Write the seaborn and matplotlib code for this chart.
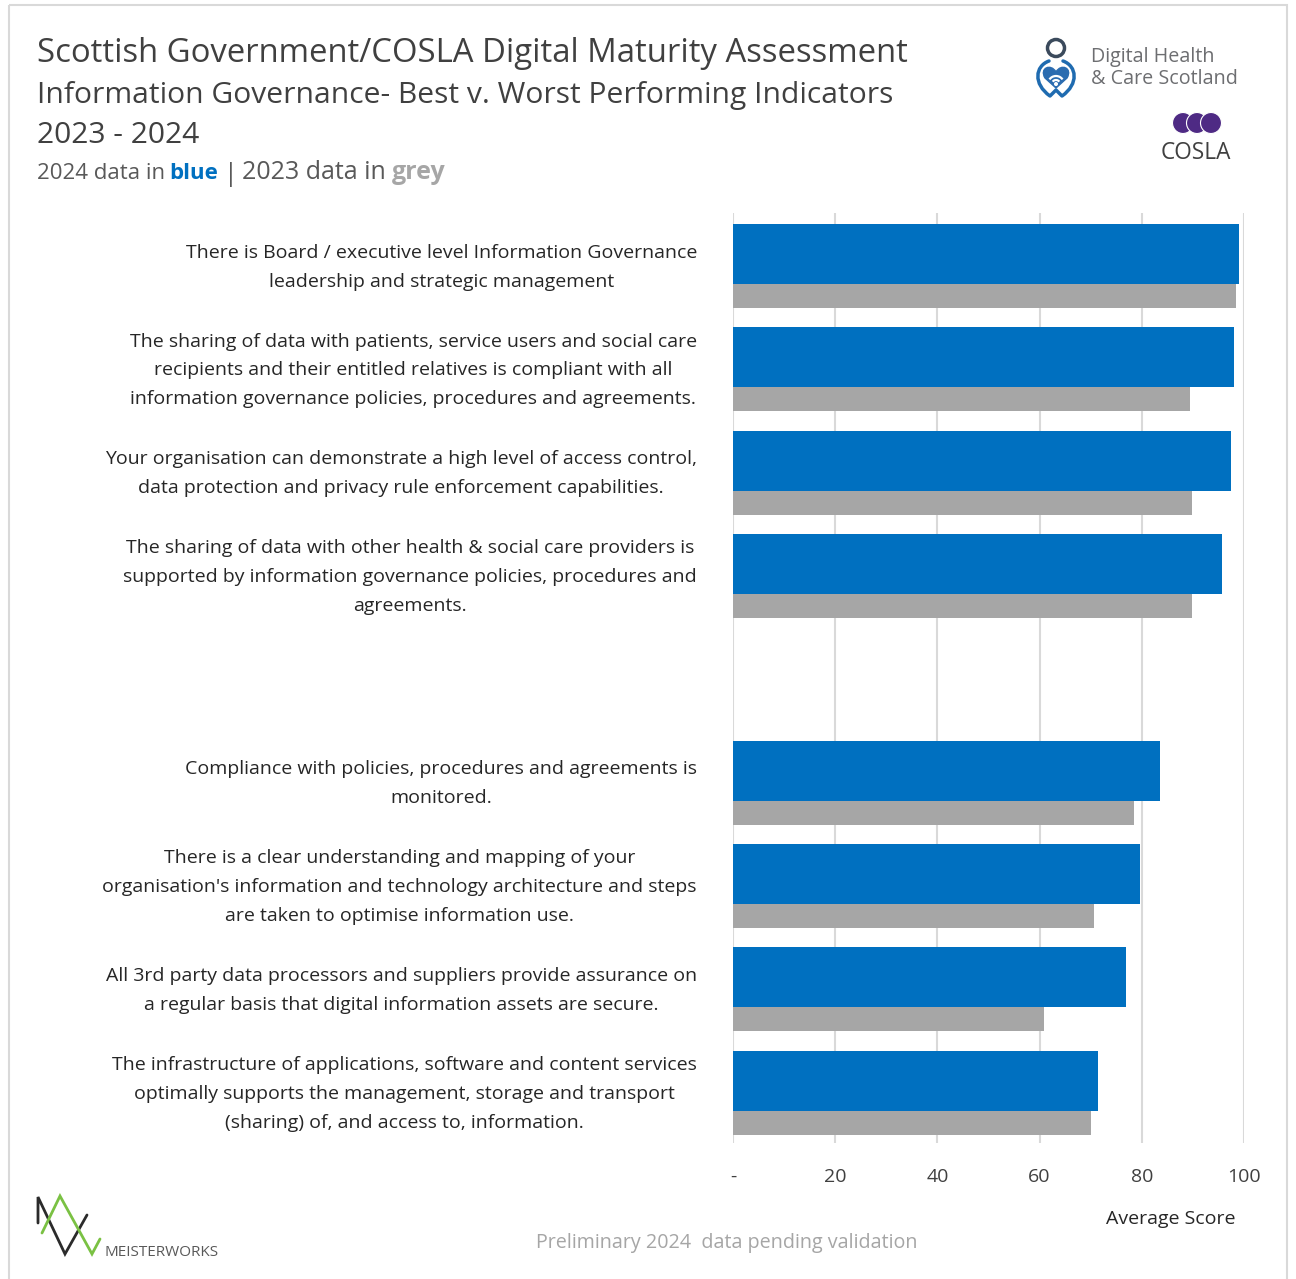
import matplotlib
matplotlib.use("Agg")
import matplotlib.pyplot as plt
from matplotlib.patches import Rectangle, Circle, PathPatch, Arc
from matplotlib.path import Path
from matplotlib.transforms import ScaledTranslation
import pandas as pd
import seaborn as sns

sns.set_theme(style="white")
plt.rcParams["font.family"] = ["Open Sans", "DejaVu Sans"]

# ---- data -------------------------------------------------------------
indicators = [
    "There is Board / executive level Information Governance\nleadership and strategic management",
    "The sharing of data with patients, service users and social care\nrecipients and their entitled relatives is compliant with all\ninformation governance policies, procedures and agreements.",
    "Your organisation can demonstrate a high level of access control,\ndata protection and privacy rule enforcement capabilities.",
    "The sharing of data with other health & social care providers is\nsupported by information governance policies, procedures and\nagreements.",
    "",
    "Compliance with policies, procedures and agreements is\nmonitored.",
    "There is a clear understanding and mapping of your\norganisation's information and technology architecture and steps\nare taken to optimise information use.",
    "All 3rd party data processors and suppliers provide assurance on\na regular basis that digital information assets are secure.",
    "The infrastructure of applications, software and content services\noptimally supports the management, storage and transport\n(sharing) of, and access to, information.",
]
slots = [0, 1, 2, 3, 5, 6, 7, 8]
score_2024 = [99.1, 98.1, 97.5, 95.7, 83.6, 79.6, 76.9, 71.4]
score_2023 = [98.4, 89.5, 89.9, 89.8, 78.4, 70.7, 60.9, 70.1]
x_ticks = [0, 20, 40, 60, 80, 100]
x_tick_labels = ["-", "20", "40", "60", "80", "100"]

BLUE = "#0070C0"
GREY = "#A6A6A6"
DARK = "#404040"

W, H = 1296, 1279
fig = plt.figure(figsize=(W / 100, H / 100), dpi=100)
fig.patch.set_facecolor("white")

# ---- bar chart --------------------------------------------------------
ax = fig.add_axes([733 / W, 1 - 1143 / H, (1244 - 733) / W, (1143 - 213) / H])
df_blue = pd.DataFrame({"pos": [s - 0.104 for s in slots], "score": score_2024})
df_grey = pd.DataFrame({"pos": [s + 0.303 for s in slots], "score": score_2023})

sns.barplot(data=df_grey, x="score", y="pos", orient="h", native_scale=True,
            width=0.23, color=GREY, saturation=1, linewidth=0, ax=ax)
sns.barplot(data=df_blue, x="score", y="pos", orient="h", native_scale=True,
            width=0.58, color=BLUE, saturation=1, linewidth=0, ax=ax)

ax.set_xlim(0, 100)
ax.set_ylim(8.5, -0.5)
ax.set_xticks(x_ticks)
ax.set_xticklabels(x_tick_labels, fontsize=14, color=DARK)
ax.set_yticks(range(len(indicators)))
ax.set_yticklabels(indicators, fontsize=14, color="#262626")
ax.tick_params(axis="y", length=0, pad=26)
ax.tick_params(axis="x", length=0, pad=18)
lift = ScaledTranslation(0, 5 / 100, fig.dpi_scale_trans)
for lab in ax.get_yticklabels():
    lab.set_multialignment("center")
    lab.set_linespacing(1.78)
    lab.set_transform(lab.get_transform() + lift)
ax.set_xlabel("")
ax.set_ylabel("")
ax.grid(axis="x", color="#D9D9D9", linewidth=1.5)
ax.grid(axis="y", visible=False)
ax.set_axisbelow(True)
for sp in ax.spines.values():
    sp.set_visible(False)

fig.text(1235 / W, 1 - 1219 / H, "Average Score", ha="right", va="center",
         fontsize=14, color="#262626")

# ---- titles -----------------------------------------------------------
fig.text(37 / W, 1 - 62 / H, "Scottish Government/COSLA Digital Maturity Assessment",
         ha="left", va="baseline", fontsize=23.7, color=DARK)
fig.text(37 / W, 1 - 103 / H, "Information Governance- Best v. Worst Performing Indicators",
         ha="left", va="baseline", fontsize=21.6, color=DARK)
fig.text(37 / W, 1 - 143 / H, "2023 - 2024", ha="left", va="baseline",
         fontsize=21.6, color=DARK)
fig.text(37 / W, 1 - 179 / H, "2024 data in", ha="left", va="baseline",
         fontsize=16, color="#595959")
fig.text(169 / W, 1 - 179 / H, "blue", ha="left", va="baseline",
         fontsize=16, color=BLUE, fontweight="bold")
fig.text(224 / W, 1 - 181 / H, "|", ha="left", va="baseline",
         fontsize=18, color="#595959")
fig.text(242 / W, 1 - 179 / H, "2023 data in", ha="left", va="baseline",
         fontsize=18, color="#595959")
fig.text(392 / W, 1 - 179 / H, "grey", ha="left", va="baseline",
         fontsize=18, color=GREY, fontweight="bold")

fig.text(727 / W, 1 - 1243 / H, "Preliminary 2024  data pending validation",
         ha="center", va="center", fontsize=14.2, color="#A6A6A6")

# ---- frame (pixel overlay, behind everything) -------------------------
ov = fig.add_axes([0, 0, 1, 1], zorder=-1)
ov.set_xlim(0, W)
ov.set_ylim(H, 0)
ov.axis("off")
ov.add_patch(Rectangle((9, 5), 1278, 1290, fill=False, edgecolor="#D9D9D9", linewidth=1.5))

# ---- logos (pixel overlay) --------------------------------------------
ov2 = fig.add_axes([0, 0, 1, 1], zorder=5)
ov2.set_xlim(0, W)
ov2.set_ylim(H, 0)
ov2.axis("off")
ov2.patch.set_alpha(0)

# Digital Health & Care Scotland mark
ov2.add_patch(Circle((1056, 48), 8.5, fill=False, edgecolor="#3B4A5C", linewidth=2.5))
body = Path([(1049, 61), (1035, 66), (1033, 84), (1050, 96),
             (1056, 90), (1062, 96),
             (1079, 84), (1077, 66), (1063, 61)],
            [Path.MOVETO, Path.CURVE4, Path.CURVE4, Path.CURVE4,
             Path.LINETO, Path.LINETO,
             Path.CURVE4, Path.CURVE4, Path.CURVE4])
ov2.add_patch(PathPatch(body, fill=False, edgecolor="#1F6BB0", linewidth=2.5,
                        capstyle="round", joinstyle="round"))
heart = Path([(1056, 72), (1051, 63), (1039, 68), (1045, 78),
              (1056, 88), (1067, 78),
              (1073, 68), (1061, 63), (1056, 72), (1056, 72)],
             [Path.MOVETO, Path.CURVE4, Path.CURVE4, Path.CURVE4,
              Path.LINETO, Path.LINETO,
              Path.CURVE4, Path.CURVE4, Path.CURVE4, Path.CLOSEPOLY])
ov2.add_patch(PathPatch(heart, facecolor="#2B6CB0", edgecolor="#2B6CB0", linewidth=1))
for r in (4, 8):
    ov2.add_patch(Arc((1056, 84), 2 * r, 2 * r, theta1=215, theta2=325,
                      color="white", linewidth=1.6))
ov2.add_patch(Circle((1056, 84), 1.3, color="white"))
fig.text(1091 / W, 1 - 57 / H, "Digital Health", ha="left", va="center",
         fontsize=14.2, color="#6D6E71")
fig.text(1091 / W, 1 - 79 / H, "& Care Scotland", ha="left", va="center",
         fontsize=14.2, color="#6D6E71")

# COSLA mark
for cx in (1183, 1197, 1211):
    ov2.add_patch(Circle((cx, 123), 10.5, facecolor="#4E2A84", edgecolor="white", linewidth=0.8))
fig.text(1196 / W, 1 - 153 / H, "COSLA", ha="center", va="center",
         fontsize=16.3, color="#404040")

# Meisterworks mark
ov2.plot([38, 38, 65, 87], [1223, 1197, 1254, 1215], color="#2B2B2B", linewidth=2,
         solid_joinstyle="miter")
ov2.plot([42, 60, 92, 100], [1233, 1196, 1254, 1239], color="#7AC143", linewidth=2,
         solid_joinstyle="miter")
fig.text(104 / W, 1 - 1252 / H, "MEISTERWORKS", ha="left", va="center",
         fontsize=11, color="#595959")

fig.savefig("out.png", dpi=100, facecolor="white")
